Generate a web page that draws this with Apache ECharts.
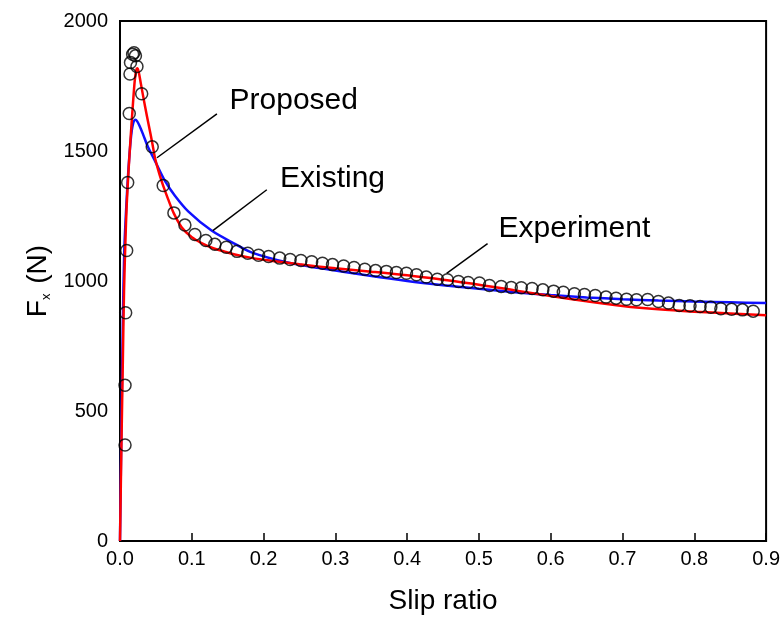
<!DOCTYPE html>
<html>
<head>
<meta charset="utf-8">
<script src="https://cdn.jsdelivr.net/npm/echarts@6/dist/echarts.min.js"></script>
<style>
  html, body { margin: 0; padding: 0; background: #fff; }
  #chart { width: 783px; height: 621px; }
</style>
</head>
<body>
<div id="chart"></div>
<script>
// Measured tyre longitudinal force vs slip ratio
var expX = [0.007,0.007,0.0079,0.0093,0.0107,0.0129,0.0139,0.0146,0.0176,0.0195,0.0215,0.0236,0.0302,0.0449,0.0602,0.0751,0.0904,0.1043,0.1196,0.1321,0.148,0.163,0.178,0.193,0.207,0.2225,0.237,0.252,0.267,0.282,0.296,0.3115,0.326,0.341,0.356,0.371,0.385,0.399,0.413,0.4266,0.442,0.456,0.4715,0.485,0.5007,0.5146,0.531,0.545,0.559,0.574,0.589,0.604,0.6175,0.633,0.647,0.662,0.677,0.691,0.7056,0.7195,0.735,0.750,0.764,0.779,0.794,0.808,0.823,0.837,0.852,0.867,0.882];
var expY = [369,599,878,1117,1379,1644,1796,1840,1872,1878,1866,1825,1720,1516,1367,1262,1215,1179,1156,1141,1130,1114,1107,1099,1094,1088,1083,1079,1074,1068,1063,1058,1052,1045,1040,1037,1033,1030,1024,1015,1007,1005,998,994,992,983,979,975,974,971,966,961,957,951,948,944,938,934,930,928,929,921,915,906,905,902,899,893,891,889,884];

// Proposed model curve
var propX = [0,0.002,0.004,0.0056,0.0075,0.0093,0.012,0.015,0.018,0.0205,0.0225,0.024,0.026,0.029,0.035,0.04,0.045,0.049,0.055,0.06,0.067,0.075,0.0858,0.1,0.1136,0.13,0.146,0.16,0.185,0.21,0.25,0.3,0.35,0.4,0.45,0.5,0.55,0.6,0.65,0.7,0.75,0.8,0.85,0.9];
var propY = [0,370,700,960,1150,1290,1430,1560,1680,1770,1810,1818,1805,1760,1670,1600,1530,1470,1410,1368,1315,1260,1207,1168,1146,1126,1113,1102,1088,1078,1064,1049,1036,1022,1005,986,964,942,922,904,891,882,875,868];

// Existing model curve
var existX = [0,0.002,0.004,0.006,0.009,0.0115,0.0139,0.016,0.0185,0.0215,0.024,0.027,0.032,0.039,0.0487,0.0626,0.0765,0.095,0.1275,0.16,0.185,0.232,0.278,0.348,0.4,0.45,0.5,0.55,0.6,0.65,0.7,0.75,0.8,0.85,0.9];
var existY = [0,450,850,1120,1300,1420,1510,1570,1608,1620,1614,1598,1565,1515,1462,1385,1328,1268,1194,1143,1108,1072,1050,1020,1000,984,970,957,946,937,930,925,921,918,915];

// Callout labels: text, text centre, leader start, leader end
var noteText = ['Proposed', 'Existing', 'Experiment'];
var noteAt = [[0.242, 1693], [0.296, 1393], [0.633, 1202]];
var noteFrom = [[0.0515, 1474], [0.1293, 1194], [0.455, 1029]];
var noteTo = [[0.135, 1643], [0.2045, 1351], [0.512, 1144]];

var xTicks = ['0.0','0.1','0.2','0.3','0.4','0.5','0.6','0.7','0.8','0.9'];
var yTicks = ['0','500','1000','1500','2000'];

function zip(a, b) { return a.map(function (v, i) { return [v, b[i]]; }); }

var FONT = 'Liberation Sans, Arial, sans-serif';
var chart = echarts.init(document.getElementById('chart'));

chart.setOption({
  animation: false,
  backgroundColor: '#ffffff',
  grid: {
    left: 120, right: 16, top: 21, bottom: 80,
    show: true, borderColor: '#000', borderWidth: 2
  },
  xAxis: {
    type: 'value', min: 0, max: 0.9, interval: 0.1,
    name: 'Slip ratio', nameLocation: 'middle', nameGap: 46,
    nameTextStyle: { fontFamily: FONT, fontSize: 28, color: '#000' },
    axisLine: { lineStyle: { color: '#000', width: 2 } },
    axisTick: { inside: true, length: 8, lineStyle: { color: '#000', width: 1.5 } },
    axisLabel: {
      fontFamily: FONT, fontSize: 20, color: '#000', margin: 8,
      formatter: function (v) { return xTicks[Math.round(v * 10)]; }
    },
    splitLine: { show: false }
  },
  yAxis: {
    type: 'value', min: 0, max: 2000, interval: 500,
    name: '{a|F}{s|x}{a| (N)}', nameLocation: 'middle', nameGap: 58,
    nameTextStyle: {
      fontFamily: FONT, color: '#000',
      rich: {
        a: { fontFamily: FONT, fontSize: 28, color: '#000' },
        s: { fontFamily: FONT, fontSize: 13, color: '#000', verticalAlign: 'bottom', padding: [0, 2, 0, 0] }
      }
    },
    axisLine: { show: true, lineStyle: { color: '#000', width: 2 } },
    axisTick: { show: false },
    axisLabel: {
      fontFamily: FONT, fontSize: 20, color: '#000', margin: 12,
      formatter: function (v) { return yTicks[Math.round(v / 500)]; }
    },
    splitLine: { show: false }
  },
  series: [
    {
      name: 'Existing', type: 'line', smooth: 0.3, showSymbol: false,
      data: zip(existX, existY),
      lineStyle: { color: '#1010ff', width: 2.5 }, z: 2
    },
    {
      name: 'Proposed', type: 'line', smooth: 0.3, showSymbol: false,
      data: zip(propX, propY),
      lineStyle: { color: '#ff0000', width: 2.5 }, z: 3
    },
    {
      name: 'Experiment', type: 'scatter',
      symbol: 'circle', symbolSize: 12,
      data: zip(expX, expY),
      itemStyle: { color: 'rgba(0,0,0,0)', borderColor: '#000', borderWidth: 1.5 },
      z: 4
    }
  ]
});

// Callout text and leader lines placed through the chart's own coordinate system
var g = [];
noteText.forEach(function (t, i) {
  var c = chart.convertToPixel({ gridIndex: 0 }, noteAt[i]);
  var p0 = chart.convertToPixel({ gridIndex: 0 }, noteFrom[i]);
  var p1 = chart.convertToPixel({ gridIndex: 0 }, noteTo[i]);
  g.push({
    type: 'line', z: 10,
    shape: { x1: p0[0], y1: p0[1], x2: p1[0], y2: p1[1] },
    style: { stroke: '#000', lineWidth: 1.5 }
  });
  g.push({
    type: 'text', z: 10, x: c[0], y: c[1],
    style: { text: t, fill: '#000', font: '30px ' + FONT, align: 'center', verticalAlign: 'middle' }
  });
});
chart.setOption({ graphic: g });
</script>
</body>
</html>
